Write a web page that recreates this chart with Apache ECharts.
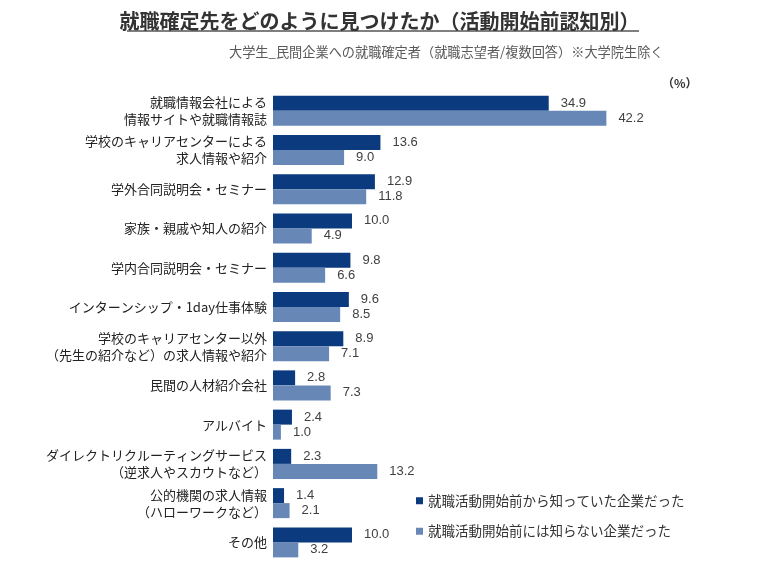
<!DOCTYPE html>
<html><head><meta charset="utf-8">
<script src="https://cdn.jsdelivr.net/npm/echarts@6/dist/echarts.min.js"></script>
<style>html,body{margin:0;padding:0;background:#fff}#c{width:759px;height:563px}</style>
</head><body><div id="c"></div>
<script>
const categories = [
  "就職情報会社による\n情報サイトや就職情報誌",
  "学校のキャリアセンターによる\n求人情報や紹介",
  "学外合同説明会・セミナー",
  "家族・親戚や知人の紹介",
  "学内合同説明会・セミナー",
  "インターンシップ・1day仕事体験",
  "学校のキャリアセンター以外\n（先生の紹介など）の求人情報や紹介",
  "民間の人材紹介会社",
  "アルバイト",
  "ダイレクトリクルーティングサービス\n（逆求人やスカウトなど）",
  "公的機関の求人情報\n（ハローワークなど）",
  "その他"
];
const seriesNames = ["就職活動開始前から知っていた企業だった", "就職活動開始前には知らない企業だった"];
const knownBefore = [34.9, 13.6, 12.9, 10.0, 9.8, 9.6, 8.9, 2.8, 2.4, 2.3, 1.4, 10.0];
const unknownBefore = [42.2, 9.0, 11.8, 4.9, 6.6, 8.5, 7.1, 7.3, 1.0, 13.2, 2.1, 3.2];

const FONT = '"Noto Sans CJK JP", "Noto Sans", sans-serif';
const chart = echarts.init(document.getElementById('c'));
const labelCfg = {
  show: true, position: 'right', distance: 12,
  formatter: p => p.value.toFixed(1),
  color: '#404040', fontSize: 13, fontFamily: '"Liberation Sans", Arial, sans-serif'
};
chart.setOption({
  animation: false,
  title: [
    { text: '就職確定先をどのように見つけたか（活動開始前認知別）', left: 'center', top: 6,
      textStyle: { fontSize: 20, fontWeight: 'bold', color: '#333', fontFamily: FONT } },
    { text: '大学生_民間企業への就職確定者（就職志望者/複数回答）※大学院生除く', left: 224, top: 40,
      textStyle: { fontSize: 13.2, fontWeight: 'normal', color: '#595959', fontFamily: FONT } },
    { text: '（%）', left: 657, top: 72,
      textStyle: { fontSize: 12, fontWeight: 'bold', color: '#333', fontFamily: FONT } }
  ],
  graphic: [
    { type: 'line', shape: { x1: 127, y1: 31, x2: 639, y2: 31 }, style: { stroke: '#555', lineWidth: 1.5 } }
  ],
  legend: {
    orient: 'vertical', left: 411, top: 489, itemGap: 17,
    itemWidth: 7, itemHeight: 7, icon: 'rect',
    textStyle: { fontSize: 13.5, color: '#333', fontFamily: FONT },
    data: seriesNames
  },
  grid: { left: 273, top: 91, width: 395, height: 471 },
  xAxis: { type: 'value', min: 0, max: 50, show: false },
  yAxis: {
    type: 'category', data: categories, inverse: true,
    axisLine: { show: false }, axisTick: { show: false },
    axisLabel: { margin: 6, fontSize: 13, lineHeight: 17, color: '#222', fontFamily: FONT, align: 'right' }
  },
  series: [
    { name: seriesNames[0], type: 'bar', data: knownBefore, barWidth: 15, barGap: '0%',
      itemStyle: { color: '#0B3A7E' }, label: labelCfg },
    { name: seriesNames[1], type: 'bar', data: unknownBefore, barWidth: 15, barGap: '0%',
      itemStyle: { color: '#6787B7' }, label: labelCfg }
  ]
});
</script></body></html>
